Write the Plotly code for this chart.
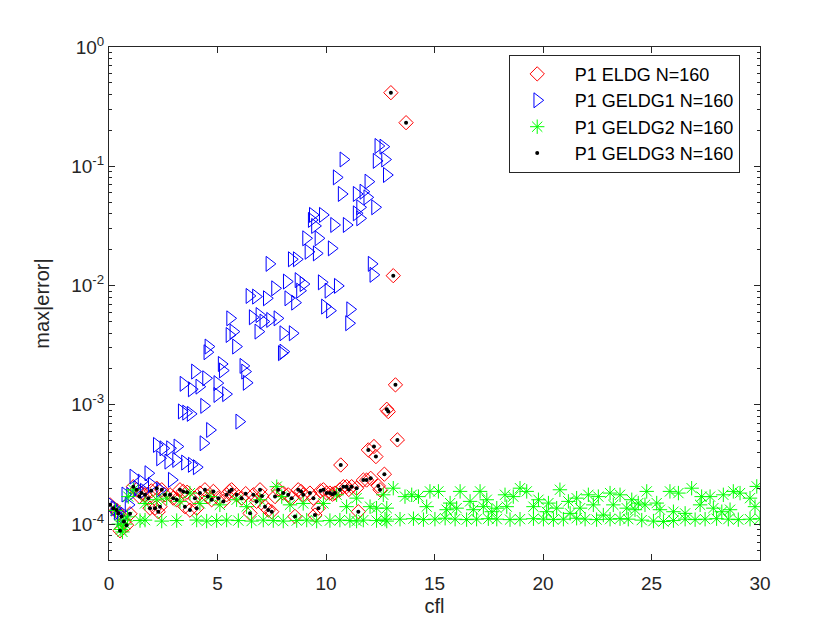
import plotly.graph_objects as go

# cfl / max|error| pairs
eldg_cfl = [0.05, 0.20, 0.35, 0.43, 0.51, 0.58, 0.69, 0.81, 0.97,
            1.12, 1.27, 1.40, 1.50, 1.66, 1.81, 1.89, 2.12, 2.20, 2.27, 2.35,
            2.43, 2.58, 2.81, 2.96, 3.12, 3.27, 3.42, 3.50, 3.73, 3.96,
            4.04, 4.19, 4.42, 4.73, 4.81, 5.04, 5.27, 5.42, 5.65, 5.88,
            6.11, 6.50, 6.65, 6.80, 6.96, 7.19, 7.34, 7.50, 7.65, 7.80,
            8.03, 8.26, 8.42, 8.57, 8.72, 8.95, 9.26, 9.42, 9.49, 9.65,
            9.88, 10.03, 10.18, 10.41, 10.64, 10.80, 10.95, 11.18, 11.41, 11.49,
            11.72, 11.87, 12.49, 12.41, 12.06, 12.69, 10.68, 12.30, 12.21, 11.95,
            13.29, 12.87, 12.80, 13.20, 13.10, 13.69, 12.99,
            1.95, 3.60, 4.55, 5.55, 6.30, 7.05, 8.85, 9.75, 10.30, 11.05]
eldg_err = [1.45e-4, 1.36e-4, 1.31e-4, 1.23e-4, 8.8e-5, 1.16e-4, 1.05e-4, 9.8e-5, 1.22e-4,
            2.06e-4, 1.94e-4, 1.70e-4, 1.82e-4, 1.76e-4, 1.65e-4, 1.36e-4, 1.36e-4, 2.00e-4, 1.27e-4, 1.40e-4,
            1.94e-4, 1.76e-4, 1.76e-4, 1.65e-4, 1.60e-4, 1.94e-4, 1.88e-4, 1.40e-4, 1.31e-4, 1.65e-4,
            1.36e-4, 1.82e-4, 1.94e-4, 1.60e-4, 1.88e-4, 1.65e-4, 1.55e-4, 1.76e-4, 1.94e-4, 1.76e-4,
            1.65e-4, 1.23e-4, 1.76e-4, 1.55e-4, 1.94e-4, 1.40e-4, 1.31e-4, 1.27e-4, 1.70e-4, 1.94e-4,
            1.82e-4, 1.76e-4, 1.65e-4, 1.16e-4, 1.94e-4, 1.76e-4, 1.82e-4, 1.65e-4, 1.19e-4, 1.36e-4,
            1.94e-4, 1.82e-4, 1.82e-4, 1.82e-4, 1.94e-4, 2.06e-4, 2.06e-4, 2.06e-4, 2.00e-4, 1.27e-4,
            2.34e-4, 2.34e-4, 1.94e-4, 2.09e-4, 2.42e-4, 2.62e-4, 3.13e-4, 3.68e-4, 4.47e-4, 4.19e-4,
            5.08e-4, 8.77e-4, 9.18e-4, 1.47e-3, 1.21e-2, 0.232, 0.414,
            1.90e-4, 1.85e-4, 1.70e-4, 1.88e-4, 1.80e-4, 1.72e-4, 1.88e-4, 1.90e-4, 1.78e-4, 1.95e-4]

geldg1_cfl = [0.10, 0.25, 0.40, 0.55, 0.70, 0.75, 0.90, 0.97, 1.12, 1.30, 1.50, 1.60, 1.81, 1.97,
              2.35, 2.89, 2.20, 2.50, 2.81, 3.15, 2.35, 2.73, 3.09, 3.50, 3.81, 4.04, 4.35,
              4.65, 6.00, 3.35, 3.55, 3.76, 4.38, 4.99, 5.39, 3.43, 3.81, 4.16, 4.47, 4.99,
              6.34, 5.19, 5.24, 3.96, 6.19, 6.27, 4.58, 4.53, 7.96, 8.03, 5.58, 5.55, 5.73,
              5.85, 6.62, 6.93, 7.11, 7.42, 7.76, 6.88, 8.03, 8.46, 11.06, 9.95, 10.18, 11.11,
              6.47, 6.77, 7.27, 8.26, 8.57, 8.80, 8.19, 8.73, 8.96, 7.65, 9.80, 10.11, 10.54,
              8.42, 8.65, 7.39, 12.10, 12.18, 9.08, 9.65, 10.26, 9.19, 9.57, 9.39, 9.85, 9.34,
              9.49, 10.37, 10.95, 11.41, 11.57, 12.26, 11.57, 11.95, 11.90, 10.72, 11.41, 11.72,
              10.49, 12.80, 10.80, 12.72, 12.33, 12.64, 12.41]
geldg1_err = [1.45e-4, 1.35e-4, 1.25e-4, 1.12e-4, 1.20e-4, 1.77e-4, 1.45e-4, 1.76e-4, 2.50e-4, 2.00e-4,
              2.27e-4, 1.90e-4, 2.67e-4, 2.13e-4, 1.94e-4, 2.35e-4, 4.61e-4, 4.32e-4, 4.32e-4, 4.47e-4,
              3.56e-4, 3.34e-4, 3.45e-4, 3.28e-4, 3.14e-4, 3.00e-4, 4.76e-4, 6.15e-4, 7.23e-4,
              8.8e-4, 8.6e-4, 8.4e-4, 9.8e-4, 1.21e-3, 1.23e-3, 1.50e-3, 1.35e-3, 1.42e-3, 1.67e-3,
              1.52e-3, 1.53e-3, 2.20e-3, 1.94e-3, 1.90e-3, 2.12e-3, 1.90e-3, 3.08e-3, 2.76e-3,
              2.71e-3, 2.79e-3, 5.31e-3, 3.85e-3, 4.11e-3, 3.08e-3, 5.42e-3, 5.66e-3, 4.99e-3,
              5.15e-3, 5.31e-3, 4.11e-3, 3.98e-3, 3.98e-3, 4.83e-3, 6.66e-3, 6.16e-3, 6.32e-3,
              8.18e-3, 8.08e-3, 7.82e-3, 7.82e-3, 7.19e-3, 9.06e-3, 1.08e-2, 1.11e-2, 1.03e-2,
              9.48e-3, 1.064e-2, 9.06e-3, 9.93e-3, 1.66e-2, 1.66e-2, 1.52e-2, 1.52e-2, 1.23e-2,
              2.49e-2, 2.49e-2, 2.05e-2, 1.92e-2, 1.86e-2, 3.91e-2, 3.91e-2, 3.55e-2, 3.16e-2,
              3.22e-2, 3.22e-2, 4.03e-2, 3.66e-2, 4.53e-2, 4.53e-2, 7.43e-2, 5.49e-2, 5.86e-2,
              5.86e-2, 6.12e-2, 8.07e-2, 8.45e-2, 0.114, 0.114, 0.111, 0.146, 0.148]

geldg2_cfl = [0.30, 0.45, 0.55, 0.62, 0.75, 0.85,
              0.66, 1.43, 1.66, 2.43, 3.12, 4.04, 4.50, 4.96, 5.42, 5.96, 6.57, 7.11, 7.57, 8.03,
              8.65, 9.11, 9.57, 10.18, 10.64, 11.10, 11.41, 11.72, 12.33, 12.80,
              0.89, 1.12, 1.66, 2.20, 2.66, 3.27, 3.73, 4.19, 4.65, 5.11, 5.88, 6.34, 6.96, 7.73,
              7.96, 8.34, 8.95, 9.88, 10.49, 10.95, 11.41, 12.03, 12.33, 12.64,
              12.72, 13.41, 14.03, 14.49, 15.02, 15.49, 15.95, 16.48, 16.94, 17.48, 17.87, 18.48,
              18.94, 19.56, 20.02, 20.48, 20.94, 21.55, 21.94, 22.47, 23.09, 23.55, 23.93, 24.55,
              25.09, 25.55, 26.01, 26.55, 27.01, 27.47, 28.00, 28.54, 29.00, 29.54, 30.00,
              13.10, 13.64, 13.95, 14.26, 14.79, 15.18, 15.72, 16.18, 16.64, 17.10, 17.41, 17.87,
              18.25, 18.63, 18.94, 19.25, 19.79, 20.25, 20.78, 21.17, 21.55, 22.09, 22.55, 23.09,
              23.55, 24.09, 24.39, 24.78, 25.24, 25.85, 26.24, 26.85, 27.31, 27.70, 28.31, 28.77,
              29.08, 29.54, 29.85,
              12.80, 14.64, 15.56, 16.02, 16.79, 17.25, 17.64, 18.33, 19.56, 20.17, 20.63, 21.25,
              21.71, 22.32, 22.78, 23.24, 23.86, 24.24, 24.70, 25.39, 26.01, 26.55, 27.24, 27.85,
              28.24, 28.62, 29.77]
geldg2_err = [1.30e-4, 1.00e-4, 9.0e-5, 8.6e-5, 1.00e-4, 1.15e-4,
              1.08e-4, 1.07e-4, 1.08e-4, 1.06e-4, 1.07e-4, 1.08e-4, 1.06e-4, 1.07e-4, 1.08e-4,
              1.07e-4, 1.06e-4, 1.08e-4, 1.07e-4, 1.06e-4, 1.07e-4, 1.08e-4, 1.06e-4, 1.07e-4,
              1.08e-4, 1.07e-4, 1.06e-4, 1.08e-4, 1.07e-4, 1.06e-4,
              1.70e-4, 1.94e-4, 1.49e-4, 1.60e-4, 1.65e-4, 1.55e-4, 1.82e-4, 1.49e-4, 1.70e-4,
              1.45e-4, 1.60e-4, 1.40e-4, 1.60e-4, 2.06e-4, 1.70e-4, 1.45e-4, 1.49e-4, 1.49e-4,
              1.76e-4, 1.40e-4, 1.65e-4, 1.40e-4, 1.36e-4, 1.76e-4,
              1.10e-4, 1.10e-4, 1.11e-4, 1.09e-4, 1.10e-4, 1.12e-4, 1.10e-4, 1.09e-4, 1.10e-4,
              1.11e-4, 1.10e-4, 1.09e-4, 1.10e-4, 1.11e-4, 1.10e-4, 1.09e-4, 1.10e-4, 1.12e-4,
              1.10e-4, 1.09e-4, 1.10e-4, 1.11e-4, 1.10e-4, 1.08e-4, 1.06e-4, 1.05e-4, 1.07e-4,
              1.10e-4, 1.09e-4, 1.10e-4, 1.11e-4, 1.10e-4, 1.09e-4, 1.10e-4, 1.11e-4,
              2.00e-4, 1.70e-4, 1.76e-4, 1.70e-4, 1.88e-4, 1.88e-4, 1.50e-4, 1.88e-4, 1.55e-4,
              1.88e-4, 1.60e-4, 1.36e-4, 1.76e-4, 1.70e-4, 2.00e-4, 1.88e-4, 1.60e-4, 1.50e-4,
              1.94e-4, 1.55e-4, 1.65e-4, 1.76e-4, 1.70e-4, 1.82e-4, 1.76e-4, 1.60e-4, 1.50e-4,
              1.88e-4, 1.50e-4, 1.88e-4, 1.82e-4, 2.00e-4, 1.70e-4, 1.70e-4, 1.76e-4, 1.88e-4,
              1.82e-4, 1.65e-4, 2.07e-4,
              1.36e-4, 1.40e-4, 1.32e-4, 1.36e-4, 1.32e-4, 1.40e-4, 1.27e-4, 1.40e-4, 1.40e-4,
              1.27e-4, 1.36e-4, 1.23e-4, 1.36e-4, 1.45e-4, 1.19e-4, 1.45e-4, 1.36e-4, 1.32e-4,
              1.45e-4, 1.32e-4, 1.27e-4, 1.23e-4, 1.45e-4, 1.36e-4, 1.27e-4, 1.32e-4, 1.40e-4]

# GELDG3 sits on top of ELDG in the picture (every dot is inside a diamond)
geldg3_cfl = list(eldg_cfl)
geldg3_err = list(eldg_err)

x_ticks = [0, 5, 10, 15, 20, 25, 30]
y_ticks = [1e-4, 1e-3, 1e-2, 1e-1, 1]
y_tick_text = ["10<sup>-4</sup>", "10<sup>-3</sup>", "10<sup>-2</sup>", "10<sup>-1</sup>", "10<sup>0</sup>"]
y_minor = [m * 10.0 ** e for e in range(-5, 0) for m in range(2, 10) if m * 10.0 ** e >= 5e-5]

AX = "#262626"
FONT = "Liberation Sans, Arial, Helvetica, sans-serif"
PAD = "\u00a0\u00a0"  # legend text sits further from the symbol in the MATLAB legend

fig = go.Figure()
fig.add_trace(go.Scatter(
    x=eldg_cfl, y=eldg_err, mode="markers", name=PAD + "P1 ELDG N=160",
    marker=dict(symbol="diamond-open", size=11, color="#ff0000", line=dict(width=1, color="#ff0000"))
))
fig.add_trace(go.Scatter(
    x=geldg1_cfl, y=geldg1_err, mode="markers", name=PAD + "P1 GELDG1 N=160",
    marker=dict(symbol="triangle-right-open", size=13, color="#0000ff", line=dict(width=1, color="#0000ff"))
))
fig.add_trace(go.Scatter(
    x=geldg2_cfl, y=geldg2_err, mode="markers", name=PAD + "P1 GELDG2 N=160",
    marker=dict(symbol="asterisk-open", size=12, color="#00ff00", line=dict(width=1, color="#00ff00"))
))
fig.add_trace(go.Scatter(
    x=geldg3_cfl, y=geldg3_err, mode="markers", name=PAD + "P1 GELDG3 N=160",
    marker=dict(symbol="circle", size=4, color="#000000")
))

fig.update_xaxes(
    range=[0, 30], tickvals=x_ticks, ticks="inside", ticklen=6, tickcolor=AX,
    showline=True, linecolor=AX, linewidth=1, mirror="ticks", showgrid=False, zeroline=False,
    tickfont=dict(size=19, color=AX), ticklabelstandoff=6,
    title=dict(text="cfl", font=dict(size=20, color=AX), standoff=6),
)
fig.update_yaxes(
    type="log", range=[-4.30103, 0], tickvals=y_ticks, ticktext=y_tick_text,
    ticks="inside", ticklen=6, tickcolor=AX,
    minor=dict(tickvals=y_minor, ticks="inside", ticklen=3, tickcolor=AX, showgrid=False),
    showline=True, linecolor=AX, linewidth=1, mirror="ticks", showgrid=False, zeroline=False,
    tickfont=dict(size=19, color=AX), title=dict(text="max|error|", font=dict(size=20, color=AX), standoff=16),
)

fig.update_layout(
    width=840, height=630,
    margin=dict(l=109, r=80, t=47, b=70),
    paper_bgcolor="white", plot_bgcolor="white",
    font=dict(family=FONT, color=AX),
    legend=dict(
        x=0.614, y=0.985, xanchor="left", yanchor="top",
        bgcolor="white", bordercolor=AX, borderwidth=1,
        font=dict(size=18, color="#000000"), itemwidth=45,
    ),
)

fig.write_html(
    "out.html",
    config={"displayModeBar": False},
    post_script="document.body.style.margin='0';document.body.style.overflow='hidden';",
)
